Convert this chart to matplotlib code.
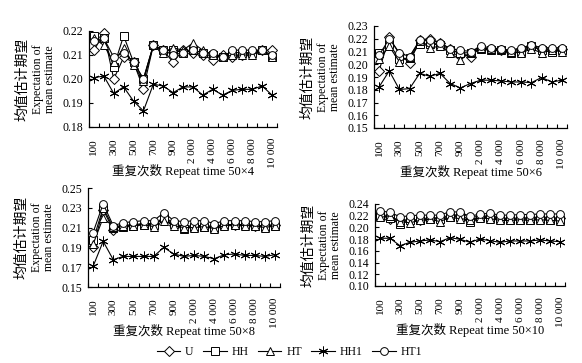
import numpy as np
import matplotlib
matplotlib.use("Agg")
import matplotlib.pyplot as plt
from matplotlib.transforms import ScaledTranslation

plt.rcParams["font.family"] = ["Liberation Serif", "Noto Sans CJK SC"]

# repeat times (categorical axis)
repeats = [100, 200, 300, 400, 500, 600, 700, 800, 900, 1000,
           2000, 3000, 4000, 5000, 6000, 7000, 8000, 9000, 10000]
tick_text = ["100", "300", "500", "700", "900",
             "2 000", "4 000", "6 000", "8 000", "10 000"]
methods = ["U", "HH", "HT", "HH1", "HT1"]

# panel 50x4
p4_U = [0.212, 0.219, 0.200, 0.209, 0.207, 0.196, 0.214, 0.212, 0.207, 0.212,
        0.211, 0.210, 0.208, 0.210, 0.209, 0.210, 0.211, 0.212, 0.212]
p4_HH = [0.218, 0.217, 0.205, 0.218, 0.207, 0.200, 0.214, 0.212, 0.212, 0.211,
         0.212, 0.211, 0.210, 0.209, 0.211, 0.211, 0.211, 0.212, 0.209]
p4_HT = [0.217, 0.214, 0.207, 0.213, 0.206, 0.199, 0.214, 0.211, 0.213, 0.212,
         0.215, 0.212, 0.210, 0.209, 0.210, 0.210, 0.210, 0.212, 0.209]
p4_HH1 = [0.2006, 0.2012, 0.1940, 0.1967, 0.1908, 0.1867, 0.1978, 0.1971, 0.1943, 0.1967,
          0.1967, 0.1933, 0.1957, 0.1933, 0.1953, 0.1957, 0.1957, 0.1971, 0.1933]
p4_HT1 = [0.216, 0.217, 0.209, 0.211, 0.207, 0.200, 0.214, 0.212, 0.210, 0.211,
          0.212, 0.211, 0.211, 0.209, 0.212, 0.212, 0.212, 0.212, 0.210]

# panel 50x6
p6_U = [0.195, 0.221, 0.208, 0.201, 0.219, 0.220, 0.217, 0.212, 0.208, 0.206,
        0.213, 0.212, 0.211, 0.210, 0.212, 0.214, 0.212, 0.212, 0.212]
p6_HH = [0.209, 0.216, 0.204, 0.205, 0.216, 0.216, 0.215, 0.211, 0.209, 0.209,
         0.212, 0.211, 0.211, 0.209, 0.210, 0.214, 0.211, 0.210, 0.211]
p6_HT = [0.204, 0.214, 0.202, 0.206, 0.218, 0.213, 0.214, 0.209, 0.203, 0.210,
         0.213, 0.212, 0.212, 0.210, 0.209, 0.212, 0.209, 0.211, 0.210]
p6_HH1 = [0.1822, 0.1948, 0.1802, 0.1809, 0.1928, 0.1906, 0.1928, 0.1849, 0.1814, 0.1849,
          0.1875, 0.1875, 0.1869, 0.1861, 0.1861, 0.1856, 0.1896, 0.1861, 0.1875]
p6_HT1 = [0.207, 0.220, 0.209, 0.206, 0.219, 0.219, 0.217, 0.212, 0.211, 0.210,
          0.214, 0.213, 0.212, 0.211, 0.213, 0.215, 0.213, 0.213, 0.213]

# panel 50x8
p8_U = [0.190, 0.228, 0.208, 0.212, 0.213, 0.214, 0.214, 0.218, 0.213, 0.211,
        0.212, 0.212, 0.211, 0.213, 0.213, 0.213, 0.212, 0.212, 0.213]
p8_HH = [0.197, 0.230, 0.210, 0.211, 0.212, 0.213, 0.213, 0.220, 0.214, 0.209,
         0.211, 0.211, 0.210, 0.213, 0.213, 0.213, 0.212, 0.211, 0.212]
p8_HT = [0.193, 0.220, 0.211, 0.212, 0.212, 0.213, 0.211, 0.217, 0.212, 0.210,
         0.210, 0.211, 0.209, 0.212, 0.213, 0.212, 0.212, 0.210, 0.212]
p8_HH1 = [0.1708, 0.1961, 0.1776, 0.1809, 0.1809, 0.1809, 0.1809, 0.1900, 0.1833, 0.1809,
          0.1819, 0.1809, 0.1786, 0.1826, 0.1833, 0.1819, 0.1819, 0.1809, 0.1826]
p8_HT1 = [0.205, 0.234, 0.212, 0.215, 0.216, 0.217, 0.217, 0.225, 0.217, 0.216,
          0.217, 0.217, 0.214, 0.217, 0.217, 0.217, 0.216, 0.216, 0.217]

# panel 50x10
p10_U = [0.222, 0.215, 0.213, 0.212, 0.213, 0.216, 0.216, 0.220, 0.222, 0.212,
         0.219, 0.219, 0.216, 0.215, 0.216, 0.216, 0.217, 0.216, 0.216]
p10_HH = [0.220, 0.216, 0.205, 0.213, 0.212, 0.215, 0.214, 0.218, 0.218, 0.209,
          0.218, 0.216, 0.214, 0.213, 0.213, 0.213, 0.214, 0.213, 0.213]
p10_HT = [0.217, 0.220, 0.210, 0.208, 0.212, 0.214, 0.210, 0.217, 0.215, 0.213,
          0.216, 0.215, 0.212, 0.212, 0.213, 0.212, 0.213, 0.212, 0.211]
p10_HH1 = [0.1815, 0.1815, 0.1688, 0.1746, 0.1769, 0.1786, 0.1757, 0.1825, 0.1798, 0.1746,
           0.1803, 0.1774, 0.1746, 0.1769, 0.1769, 0.1769, 0.1786, 0.1769, 0.1757]
p10_HT1 = [0.228, 0.226, 0.218, 0.220, 0.221, 0.221, 0.221, 0.227, 0.226, 0.219,
           0.223, 0.224, 0.221, 0.221, 0.222, 0.222, 0.223, 0.223, 0.223]

panels = [
    ("50×4", [p4_U, p4_HH, p4_HT, p4_HH1, p4_HT1], (0.18, 0.22), 0.01),
    ("50×6", [p6_U, p6_HH, p6_HT, p6_HH1, p6_HT1], (0.15, 0.23), 0.01),
    ("50×8", [p8_U, p8_HH, p8_HT, p8_HH1, p8_HT1], (0.15, 0.25), 0.02),
    ("50×10", [p10_U, p10_HH, p10_HT, p10_HH1, p10_HT1], (0.10, 0.24), 0.02),
]

# axes boxes in pixels: left, top, right, bottom
boxes = [(89, 31, 277, 127), (374, 26, 567, 128),
         (88, 188, 280, 287), (375, 204, 565, 286)]

styles = {
    "U": dict(marker="D", ms=4.8),
    "HH": dict(marker="s", ms=5.2),
    "HT": dict(marker="^", ms=6.0),
    "HH1": dict(marker=(6, 2, 0), ms=7.0),
    "HT1": dict(marker="o", ms=5.6),
}

W, H = 582, 363
fig = plt.figure(figsize=(W / 100, H / 100), dpi=100)
x = np.arange(len(repeats))

handles = []
for (tag, series, ylim, step), (l, t, r, b) in zip(panels, boxes):
    ax = fig.add_axes([l / W, 1 - b / H, (r - l) / W, (b - t) / H])
    hs = []
    for name, vals in zip(methods, series):
        st = styles[name]
        h, = ax.plot(x, vals, color="black", lw=0.8, marker=st["marker"],
                     ms=st["ms"], mfc="white", mec="black", mew=0.7,
                     clip_on=False, label=name)
        hs.append(h)
    handles = hs
    ax.set_xlim(-0.5, len(repeats) - 0.5)
    ax.set_ylim(*ylim)
    ax.set_yticks(np.arange(ylim[0], ylim[1] + step / 2, step))
    ax.yaxis.set_major_formatter(matplotlib.ticker.FormatStrFormatter("%.2f"))
    ax.set_xticks(x[::2])
    ax.set_xticklabels(tick_text, rotation=90, fontsize=8)
    ax.set_xticks(np.arange(-0.5, len(repeats), 1.0), minor=True)
    ax.tick_params(axis="x", which="major", length=0, pad=8)
    ax.tick_params(axis="x", which="minor", direction="in", length=3, width=0.8)
    ax.tick_params(axis="y", direction="in", length=3, width=0.8, labelsize=8.5, pad=4)
    for s in ("top", "right"):
        ax.spines[s].set_visible(False)
    for s in ("left", "bottom"):
        ax.spines[s].set_linewidth(0.9)

    ax.set_xlabel("重复次数 Repeat time " + tag, fontsize=9)
    ax.xaxis.set_label_coords(0.5, 0, transform=ax.transAxes
                              + ScaledTranslation(0, -0.44, fig.dpi_scale_trans))
    ax.xaxis.label.set_va("center")

    ax.annotate("均值估计期望", xy=(0, 0.5), xycoords="axes fraction",
                xytext=(-66 * 0.72, 0), textcoords="offset points",
                rotation=90, ha="center", va="center", fontsize=10)
    ax.annotate("Expectation of", xy=(0, 0.5), xycoords="axes fraction",
                xytext=(-51 * 0.72, 0), textcoords="offset points",
                rotation=90, ha="center", va="center", fontsize=8.5)
    ax.annotate("mean estimate", xy=(0, 0.5), xycoords="axes fraction",
                xytext=(-39 * 0.72, 0), textcoords="offset points",
                rotation=90, ha="center", va="center", fontsize=8.5)

fig.legend(handles=handles, labels=methods, loc="center", ncol=5,
           bbox_to_anchor=(0.497, 0.03), frameon=False, fontsize=8.5,
           handlelength=2.0, columnspacing=0.8, handletextpad=0.4)

fig.savefig("out.png", dpi=100)
